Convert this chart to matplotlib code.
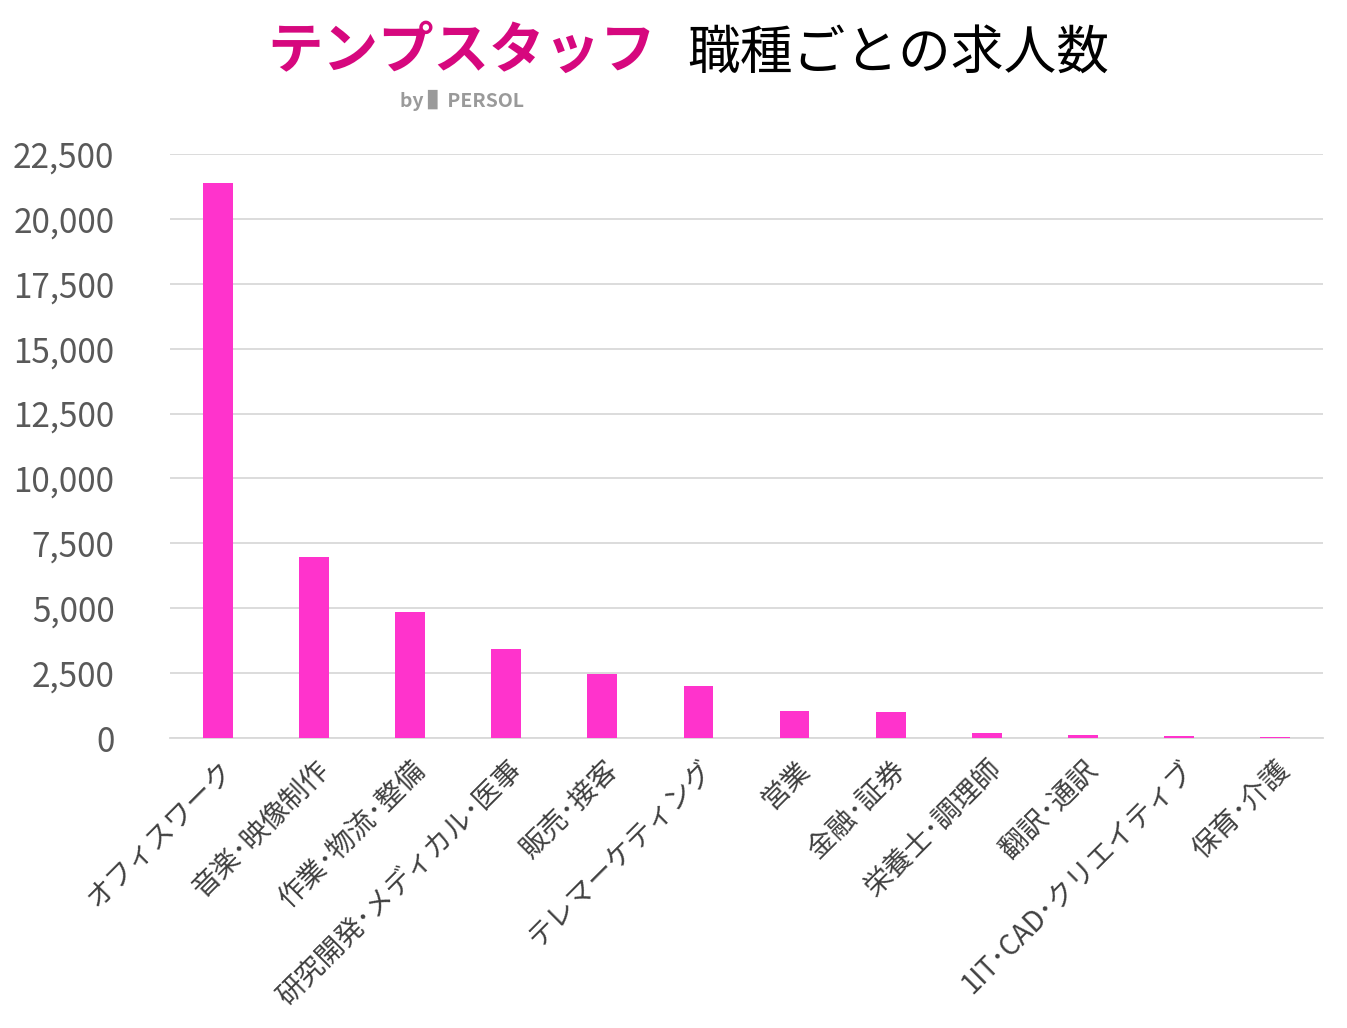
import matplotlib.pyplot as plt
from matplotlib.ticker import FuncFormatter

plt.rcParams["font.family"] = ["Noto Sans CJK JP", "DejaVu Sans"]

# ── data ──
categories = ["オフィスワーク", "音楽･映像制作", "作業･物流･整備", "研究開発･メディカル･医事",
              "販売･接客", "テレマーケティング", "営業", "金融･証券", "栄養士･調理師",
              "翻訳･通訳", "1IT･CAD･クリエイティブ", "保育･介護"]
counts = [21380, 6980, 4860, 3440, 2470, 2010, 1040, 1000, 190, 130, 80, 40]
yticks = [0, 2500, 5000, 7500, 10000, 12500, 15000, 17500, 20000, 22500]

fig = plt.figure(figsize=(13.47, 10.28), dpi=100)
ax = fig.add_axes([170 / 1347, 1 - 738 / 1028, 1153 / 1347, 584 / 1028])

x = range(len(categories))
ax.bar(x, counts, width=0.31, color="#FF33CC", zorder=3)

ax.set_xlim(-0.5, len(categories) - 0.5)
ax.set_ylim(0, 22500)
ax.set_yticks(yticks)
ax.yaxis.set_major_formatter(FuncFormatter(lambda v, p: f"{int(v):,}"))
ax.tick_params(axis="y", labelsize=24, labelcolor="#595959", length=0, pad=40)
ax.grid(axis="y", color="#D9D9D9", linewidth=1.3, zorder=0)
for s in ["top", "right", "left"]:
    ax.spines[s].set_visible(False)
ax.spines["bottom"].set_color("#D9D9D9")
ax.spines["bottom"].set_linewidth(1.3)

ax.set_xticks(list(x))
ax.set_xticklabels(categories, rotation=45, ha="right", rotation_mode="anchor",
                   fontsize=20, color="#404040")
ax.tick_params(axis="x", length=0, pad=12)

# header: logo imitation and title
fig.text(462 / 1347, 1 - 52 / 1028, "テンプスタッフ", fontsize=40, fontweight="bold",
         color="#D6087E", ha="center", va="center", style="italic")
fig.text(462 / 1347, 1 - 100 / 1028, "by ▌PERSOL", fontsize=14, fontweight="bold",
         color="#9A9A9A", ha="center", va="center")
fig.text(898 / 1347, 1 - 54 / 1028, "職種ごとの求人数", fontsize=38,
         color="black", ha="center", va="center")

fig.savefig("out.png", dpi=100)
